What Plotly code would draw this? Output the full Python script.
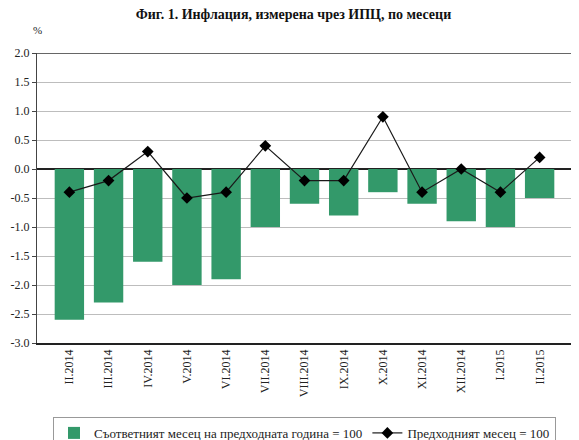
import plotly.graph_objects as go

# Месеци (категории по оста X)
months = ["II.2014", "III.2014", "IV.2014", "V.2014", "VI.2014", "VII.2014",
          "VIII.2014", "IX.2014", "X.2014", "XI.2014", "XII.2014", "I.2015", "II.2015"]

# Съответният месец на предходната година = 100
yoy = [-2.6, -2.3, -1.6, -2.0, -1.9, -1.0, -0.6, -0.8, -0.4, -0.6, -0.9, -1.0, -0.5]

# Предходният месец = 100
mom = [-0.4, -0.2, 0.3, -0.5, -0.4, 0.4, -0.2, -0.2, 0.9, -0.4, 0.0, -0.4, 0.2]

# стойности по оста Y
y_ticks = [2.0, 1.5, 1.0, 0.5, 0.0, -0.5, -1.0, -1.5, -2.0, -2.5, -3.0]

serif = "'Liberation Serif', 'DejaVu Serif', serif"

fig = go.Figure()

fig.add_trace(go.Bar(
    x=months, y=yoy,
    name="Съответният месец на предходната година = 100",
    marker=dict(color="#33996a", line=dict(width=0)),
))

fig.add_trace(go.Scatter(
    x=months, y=mom,
    name="Предходният месец = 100",
    mode="lines+markers",
    line=dict(color="#1a1a1a", width=1.2),
    marker=dict(symbol="diamond", size=9, color="black"),
))

# страницата има отстъп 8px, затова фигурата е 8px по-малка
fig.update_layout(
    width=571, height=432,
    margin=dict(l=29, r=7, t=45, b=97, autoexpand=False),
    paper_bgcolor="white",
    plot_bgcolor="white",
    font=dict(family=serif, size=12, color="#222"),
    title=dict(text="<b>Фиг. 1. Инфлация, измерена чрез ИПЦ, по месеци</b>",
               x=0.5, xanchor="center", y=1.0, yanchor="top",
               pad=dict(t=1, b=0),
               font=dict(family=serif, size=14, color="#111")),
    bargap=0.25,
    showlegend=True,
    legend=dict(orientation="h", x=0.5, xanchor="center", y=-0.255, yanchor="top",
                bordercolor="#999", borderwidth=1, font=dict(family=serif, size=13),
                traceorder="normal", entrywidth=0),
    annotations=[dict(text="%", x=0, xref="paper", xanchor="center",
                      y=1.05, yref="paper", yanchor="bottom", showarrow=False,
                      font=dict(family=serif, size=11))],
)

fig.update_yaxes(
    range=[-3.0, 2.0], tickvals=y_ticks,
    ticktext=[f"{v:.1f}" for v in y_ticks],
    showgrid=True, gridcolor="#bdbdbd", gridwidth=1,
    zeroline=True, zerolinecolor="#222", zerolinewidth=1.5,
    showline=True, linecolor="#444", linewidth=1, mirror=False,
    ticks="outside", ticklen=4, tickcolor="#444",
    tickfont=dict(family=serif, size=12),
    automargin=False,
)

fig.update_xaxes(
    tickangle=-90, showgrid=False,
    showline=True, linecolor="#222", linewidth=1.5,
    ticks="", tickfont=dict(family=serif, size=12),
    automargin=False,
)

# горна рамка на графиката при 2.0
fig.add_shape(type="line", xref="paper", yref="y", x0=0, x1=1, y0=2.0, y1=2.0,
              line=dict(color="#333", width=1.5))

fig.write_html("out.html")
